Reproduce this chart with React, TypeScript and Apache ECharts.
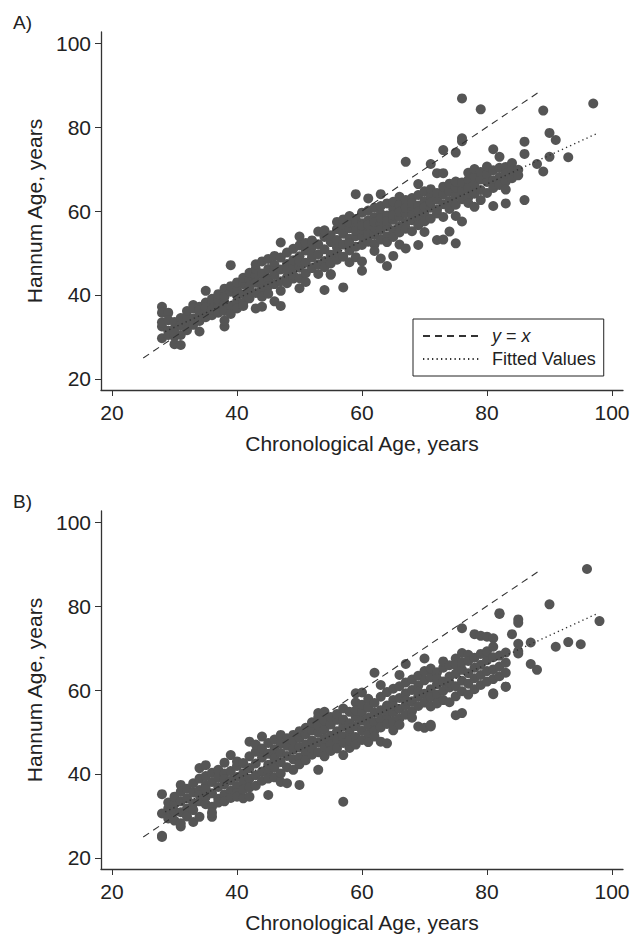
import React, { useEffect, useRef } from "react";
import * as echarts from "echarts";

// Tick values (both panels)
const xTicks = [20, 40, 60, 80, 100];
const yTicks = [20, 40, 60, 80, 100];

// Reference lines
const identityLine: [number, number][] = [[25, 25], [88.5, 88.5]];
const fittedA: [number, number][] = [[28.5, 31.3], [97.8, 78.6]];
const fittedB: [number, number][] = [[28.5, 31.0], [97.8, 78.3]];

// Panel A: chronological age -> Hannum ages
const pointsA: [number, number[]][] = [
  [28, [37.2, 35.8, 32.5, 29.7, 33.5]],
  [29, [35.8, 31.5, 30.5, 34]],
  [30, [30.1, 28.3, 32, 33.6, 31]],
  [31, [28.1, 34.5, 32.8, 30.5]],
  [32, [33.2, 35, 31.6, 36.2]],
  [33, [37.6, 34.4, 36.8, 32.9]],
  [34, [31.3, 35.6, 37.2, 33.8, 36.4]],
  [35, [41.0, 36, 34.7, 38.2, 37]],
  [36, [37.5, 35.2, 39.1, 36.6]],
  [37, [38.8, 36.9, 40.2, 35.8]],
  [38, [32.5, 33.9, 38.0, 41.5, 36.2, 39.6]],
  [39, [47.1, 40.8, 37.4, 42.1, 35.5]],
  [40, [38.4, 41.2, 43.0, 36.8, 39.9]],
  [41, [40.2, 42.6, 44.1, 38.1, 37.4]],
  [42, [43.8, 41.0, 39.2, 45.3, 42.2]],
  [43, [36.8, 44.6, 46.2, 40.5, 42.9, 47.3]],
  [44, [37.2, 45.1, 43.0, 41.4, 48.0, 39.6]],
  [45, [46.2, 44.0, 42.1, 48.6, 40.3]],
  [46, [38.5, 44.8, 47.2, 49.3, 42.6, 45.7]],
  [47, [37.4, 52.5, 43.3, 46.1, 48.9, 41.0]],
  [48, [47.4, 44.2, 50.1, 42.8, 45.9]],
  [49, [46.8, 51.0, 48.3, 43.9, 44.7]],
  [50, [53.9, 41.6, 49.2, 46.5, 51.8, 44.0, 48.0]],
  [51, [50.6, 47.7, 45.2, 52.4, 43.1]],
  [52, [48.9, 51.5, 46.4, 53.0, 49.8]],
  [53, [55.1, 49.7, 47.3, 52.1, 45.0]],
  [54, [41.2, 50.9, 53.8, 48.1, 46.6, 55.4]],
  [55, [44.8, 52.6, 49.6, 54.2, 47.5, 45.0]],
  [56, [51.3, 55.7, 48.4, 53.1, 57.4, 50.2]],
  [57, [41.8, 54.6, 52.0, 56.8, 49.1, 58.0]],
  [58, [55.9, 53.4, 57.2, 50.6, 47.8, 58.8, 52.4]],
  [59, [64.0, 56.2, 54.0, 51.5, 58.1, 49.0, 55.3]],
  [60, [45.8, 57.1, 53.9, 55.6, 59.6, 51.9, 56.5, 48.0]],
  [61, [63.0, 55.0, 57.8, 52.7, 60.1, 54.4, 56.7]],
  [62, [54.3, 58.5, 56.1, 60.8, 52.0, 57.4, 50.5]],
  [63, [64.0, 48.7, 57.0, 59.3, 55.5, 53.2, 61.2, 58.3]],
  [64, [46.9, 56.4, 58.9, 61.8, 54.0, 57.6, 52.6]],
  [65, [49.3, 57.9, 60.5, 55.4, 62.2, 59.0, 53.8]],
  [66, [63.4, 58.6, 56.3, 61.4, 54.9, 59.8, 52.0]],
  [67, [71.7, 51.1, 59.5, 62.6, 57.2, 60.7, 55.8]],
  [68, [60.2, 57.8, 63.1, 55.2, 61.9, 59.0]],
  [69, [66.4, 51.9, 61.3, 58.4, 63.8, 56.6, 60.0]],
  [70, [62.4, 59.6, 64.7, 57.5, 61.0, 55.0]],
  [71, [71.2, 60.8, 63.5, 58.2, 65.2, 62.0]],
  [72, [69.0, 53.1, 62.7, 60.3, 64.3, 59.4]],
  [73, [74.5, 69.0, 53.2, 63.9, 61.6, 65.8, 58.6]],
  [74, [55.1, 64.6, 62.4, 66.5, 60.5]],
  [75, [73.9, 52.3, 58.8, 63.7, 65.6, 61.5, 67.0]],
  [76, [77.3, 76.6, 86.8, 57.5, 64.9, 66.8, 62.8]],
  [77, [67.4, 63.2, 65.4, 69.1, 61.9]],
  [78, [61.0, 66.3, 68.2, 64.1, 70.0]],
  [79, [84.2, 62.6, 67.5, 65.0, 69.3]],
  [80, [66.9, 68.8, 64.3, 70.6]],
  [81, [74.7, 61.2, 67.3, 69.7, 65.5]],
  [82, [72.9, 68.1, 66.2, 70.3]],
  [83, [61.8, 70.5, 67.0, 68.9, 65.1]],
  [84, [71.4, 67.8, 69.6]],
  [85, [69.8, 68.5]],
  [86, [73.6, 62.6, 76.5]],
  [88, [71.2]],
  [89, [83.9, 69.4]],
  [90, [78.6, 72.9]],
  [91, [76.9]],
  [93, [72.8]],
  [97, [85.6]],
];

// Panel B
const pointsB: [number, number[]][] = [
  [28, [35.2, 25.3, 25.0, 30.6]],
  [29, [31.8, 30.6, 29.4, 33.2]],
  [30, [32.9, 28.9, 34.6, 31.1]],
  [31, [27.5, 28.3, 37.4, 33.5, 30.9, 35.8]],
  [32, [34.2, 31.8, 36.5, 29.9]],
  [33, [28.6, 35.6, 37.8, 33.0, 31.4]],
  [34, [29.8, 41.4, 36.2, 38.9, 33.5, 35.0]],
  [35, [42.1, 37.3, 34.6, 39.5, 32.8, 36.4]],
  [36, [32.2, 29.8, 38.1, 40.3, 35.4, 30.8]],
  [37, [36.9, 39.2, 34.1, 41.0, 33.2]],
  [38, [42.7, 37.6, 35.2, 40.1, 33.5, 38.8]],
  [39, [44.5, 36.0, 38.4, 34.3, 40.7]],
  [40, [37.1, 41.9, 35.5, 39.3, 43.0, 34.6]],
  [41, [34.2, 40.2, 38.0, 42.6, 36.3]],
  [42, [47.7, 34.6, 41.4, 38.9, 44.2, 36.8]],
  [43, [39.7, 45.3, 42.5, 37.2, 47.0]],
  [44, [48.9, 40.6, 43.9, 38.4, 46.1]],
  [45, [35.0, 42.2, 44.8, 40.1, 47.4, 38.9]],
  [46, [41.5, 45.9, 39.2, 43.7, 48.2]],
  [47, [49.3, 42.8, 40.1, 45.0, 38.1, 47.2]],
  [48, [37.8, 44.3, 41.6, 46.7, 48.5]],
  [49, [49.3, 43.5, 45.8, 41.0, 47.9]],
  [50, [37.4, 46.4, 44.0, 48.6, 42.3, 50.2]],
  [51, [45.2, 49.5, 47.1, 43.3, 51.0]],
  [52, [48.0, 44.6, 50.4, 46.2, 52.3]],
  [53, [54.5, 53.5, 41.0, 47.5, 49.8, 45.2, 51.5]],
  [54, [54.8, 46.3, 50.6, 48.4, 52.7, 44.2]],
  [55, [49.1, 51.8, 47.0, 53.6, 45.5]],
  [56, [50.2, 52.9, 48.2, 46.1, 54.3]],
  [57, [33.4, 44.5, 51.3, 49.0, 53.0, 47.4, 55.6]],
  [58, [46.2, 52.1, 49.9, 54.8, 48.0, 50.8]],
  [59, [59.2, 57.0, 51.4, 48.8, 53.6, 47.0, 55.1]],
  [60, [59.4, 50.3, 52.7, 48.1, 54.9, 56.5]],
  [61, [53.4, 49.5, 55.8, 51.6, 57.9, 47.6]],
  [62, [64.1, 52.4, 54.6, 50.3, 56.9, 48.9]],
  [63, [61.2, 47.7, 55.2, 53.0, 58.4, 51.1]],
  [64, [47.3, 53.9, 56.3, 51.9, 59.5, 55.0]],
  [65, [54.7, 57.6, 52.5, 60.3, 50.4, 56.2]],
  [66, [63.6, 55.5, 58.1, 53.2, 60.9, 51.7]],
  [67, [66.2, 56.4, 59.2, 54.1, 61.8, 57.5]],
  [68, [57.3, 60.0, 55.0, 62.5, 53.4]],
  [69, [51.3, 58.5, 61.1, 56.2, 63.4, 59.6]],
  [70, [67.5, 51.0, 59.1, 62.3, 57.0, 64.5]],
  [71, [51.3, 51.7, 60.2, 63.0, 58.3, 65.1, 56.1]],
  [72, [61.4, 58.9, 64.2, 56.8, 62.7]],
  [73, [62.0, 59.8, 65.3, 57.6, 66.8]],
  [74, [63.2, 60.6, 57.1, 65.9, 61.8]],
  [75, [67.5, 54.0, 60.9, 63.9, 58.5, 66.0]],
  [76, [74.7, 68.8, 54.5, 62.2, 64.8, 59.7, 66.6]],
  [77, [68.4, 61.5, 64.0, 58.9, 66.9]],
  [78, [73.3, 62.8, 65.3, 60.2, 67.7]],
  [79, [72.9, 63.6, 66.0, 61.2, 68.6]],
  [80, [72.7, 64.5, 67.1, 62.0, 69.2]],
  [81, [72.3, 70.3, 59.2, 59.0, 64.9, 67.8, 62.6]],
  [82, [78.3, 78.1, 65.6, 68.2, 63.3]],
  [83, [60.8, 60.8, 66.5, 64.1, 68.9]],
  [84, [73.3]],
  [85, [76.8, 76.0, 71.0, 69.2, 68.7]],
  [87, [71.3, 66.2]],
  [88, [64.8]],
  [90, [80.4]],
  [91, [70.3]],
  [93, [71.4]],
  [95, [70.9]],
  [96, [88.8]],
  [98, [76.4]],
];

const FONT = "'Liberation Sans', Arial, Helvetica, sans-serif";
const TEXT = "#222222";

const flatten = (g: [number, number[]][]) =>
  g.flatMap(([x, ys]) => ys.map((y) => [x, y]));

export default function App() {
  const ref = useRef<HTMLDivElement>(null);
  useEffect(() => {
    if (!ref.current) return;
    const chart = echarts.init(ref.current, null, { renderer: "svg" });

    const makeX = (gridIndex: number) => ({
      type: "value",
      gridIndex,
      min: 18.24,
      max: 101.76,
      name: "Chronological Age, years",
      nameLocation: "middle",
      nameGap: 43,
      nameTextStyle: { fontSize: 21, color: TEXT, fontFamily: FONT },
      axisLine: { show: true, onZero: false, lineStyle: { color: "#333", width: 1.3 } },
      axisTick: { show: true, length: 6, customValues: xTicks, lineStyle: { color: "#333", width: 1 } },
      axisLabel: { customValues: xTicks, fontSize: 21, color: TEXT, margin: 12, fontFamily: FONT },
      splitLine: { show: false },
    });
    const makeY = (gridIndex: number) => ({
      type: "value",
      gridIndex,
      min: 17.38,
      max: 102.62,
      name: "Hannum Age, years",
      nameLocation: "middle",
      nameGap: 53,
      nameTextStyle: { fontSize: 21, color: TEXT, fontFamily: FONT },
      axisLine: { show: true, onZero: false, lineStyle: { color: "#333", width: 1.3 } },
      axisTick: { show: true, length: 6, customValues: yTicks, lineStyle: { color: "#333", width: 1 } },
      axisLabel: { customValues: yTicks, fontSize: 21, color: TEXT, margin: 10, fontFamily: FONT },
      splitLine: { show: false },
    });

    const scatter = (i: number, data: number[][], name: string) => ({
      type: "scatter",
      name,
      xAxisIndex: i,
      yAxisIndex: i,
      data,
      symbolSize: 10,
      itemStyle: { color: "#555555", opacity: 1 },
      z: 2,
    });
    const dashed = (i: number) => ({
      type: "line",
      name: "y = x",
      xAxisIndex: i,
      yAxisIndex: i,
      data: identityLine,
      symbol: "none",
      itemStyle: { color: "#333" },
      lineStyle: { color: "#333", width: 1.1, type: [7, 5] },
      z: 5,
    });
    const dotted = (i: number, data: [number, number][]) => ({
      type: "line",
      name: "Fitted Values",
      xAxisIndex: i,
      yAxisIndex: i,
      data,
      symbol: "none",
      itemStyle: { color: "#333" },
      lineStyle: { color: "#333", width: 1.4, type: [1.3, 3.2] },
      z: 5,
    });

    chart.setOption({
      animation: false,
      backgroundColor: "#ffffff",
      title: [
        { text: "A)", left: 8, top: 8, textStyle: { fontSize: 19, fontWeight: "normal", color: TEXT, fontFamily: FONT } },
        { text: "B)", left: 8, top: 487, textStyle: { fontSize: 19, fontWeight: "normal", color: TEXT, fontFamily: FONT } },
      ],
      grid: [
        { left: 101, top: 32, width: 522, height: 358 },
        { left: 101, top: 511, width: 522, height: 358 },
      ],
      xAxis: [makeX(0), makeX(1)],
      yAxis: [makeY(0), makeY(1)],
      legend: {
        show: true,
        orient: "vertical",
        left: 413,
        top: 319,
        selectedMode: false,
        borderColor: "#222",
        borderWidth: 1,
        borderRadius: 0,
        padding: [8, 8, 8, 9],
        itemGap: 5,
        itemWidth: 58,
        itemHeight: 18,
        itemStyle: { opacity: 0 },
        data: [{ name: "y = x" }, { name: "Fitted Values" }],
        formatter: (n: string) => (n === "y = x" ? "{i|y} = {i|x}" : n),
        textStyle: {
          fontSize: 18,
          color: TEXT,
          fontFamily: FONT,
          padding: [0, 0, 0, 6],
          rich: { i: { fontStyle: "italic", fontSize: 18, color: TEXT, fontFamily: FONT } },
        },
      },
      series: [
        scatter(0, flatten(pointsA), "Panel A"),
        dashed(0),
        dotted(0, fittedA),
        scatter(1, flatten(pointsB), "Panel B"),
        dashed(1),
        dotted(1, fittedB),
      ],
    });
    return () => chart.dispose();
  }, []);
  return <div ref={ref} style={{ position: "fixed", left: 0, top: 0, width: 633, height: 935 }} />;
}
